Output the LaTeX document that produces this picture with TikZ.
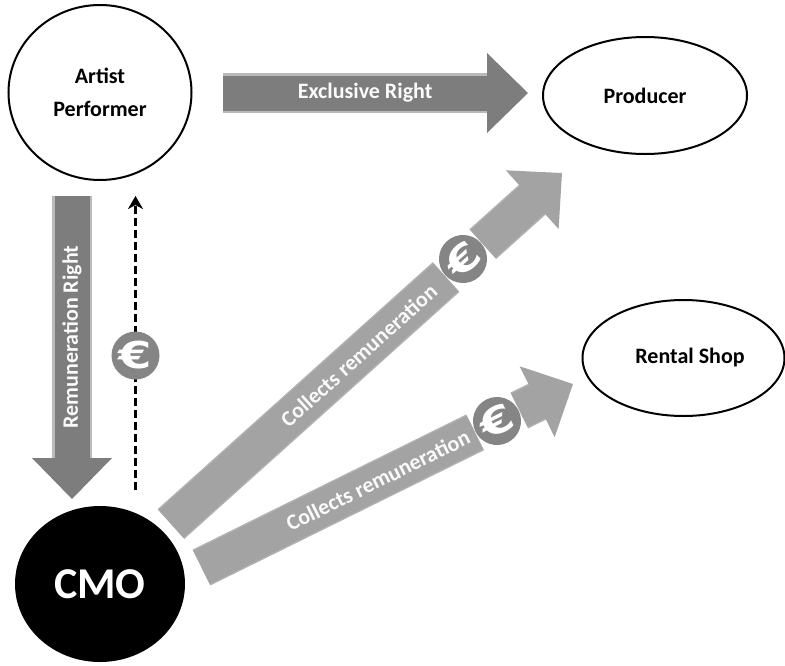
\documentclass[tikz,border=0pt]{standalone}
\usepackage{fontspec}
\setmainfont{Carlito}
\newfontfamily\coinfont{DejaVu Sans}
\colorlet{colorRight}{black!51}
\colorlet{colorRightRim}{black!27}
\colorlet{colorCollect}{black!36}
\colorlet{colorCollectRim}{black!30}
\colorlet{colorCoin}{black!48}
\usetikzlibrary{arrows.meta, shapes.geometric}
\tikzset{
  party/.style={ellipse, draw, line width=2pt, inner sep=0pt, font=\fontsize{22}{33}\selectfont\bfseries, align=center},
  rightArrow/.style={line width=40pt, draw=colorRightRim, -{Triangle[length=41pt, width=80pt, color=colorRight, fill=colorRight, line width=0pt]},
    postaction={draw=colorRight, line width=35pt, -, shorten >=37pt}},
  collectArrow/.style={line width=40pt, draw=colorCollectRim, -{Triangle[length=40pt, width=79pt, color=colorCollect, fill=colorCollect, line width=0pt]},
    postaction={draw=colorCollect, line width=37pt, -, shorten >=36pt}},
  arrowText/.style={text=black!2, font=\fontsize{22}{26}\selectfont\bfseries},
  coinGap/.style={rectangle, fill=white, minimum width=49pt, minimum height=49pt, inner sep=0pt},
  coin/.style={circle, fill=colorCoin, text=white, minimum size=48pt, inner sep=0pt, font=\fontsize{37}{37}\coinfont\bfseries}
}
\newcommand{\euroSign}{\scalebox{1.3}[1]{€}}
\begin{document}
\begin{tikzpicture}[x=1pt, y=-1pt]
\useasboundingbox (0,0) rectangle (785,665);
\node[party, minimum width=183pt, minimum height=175pt] (artist) at (100,92.5) {Artist\\Performer};
\node[party, minimum width=204pt, minimum height=117pt] (producer) at (645,95.5) {Producer};
\node[party, minimum width=202pt, minimum height=116pt] (rental) at (683.5,358) {\hspace{13pt}Rental Shop};
\node[ellipse, fill=black, text=white, minimum width=170pt, minimum height=156pt, inner sep=0pt, font=\fontsize{44}{44}\selectfont\bfseries] (cmo) at (100,584) {CMO};
\coordinate (exclusiveTail) at (223,93);
\coordinate (exclusiveTip) at (528,93);
\coordinate (remunerationTail) at (72,196);
\coordinate (remunerationTip) at (72,499);
\coordinate (paymentTail) at (135.5,490);
\coordinate (paymentTip) at (135.5,196);
\coordinate (producerTail) at (171,524);
\coordinate (producerTip) at (562,173);
\coordinate (rentalTail) at (201.5,567.5);
\coordinate (rentalTip) at (573,384);
\draw[rightArrow] (exclusiveTail) -- (exclusiveTip) node[arrowText, pos=.466] (exclusiveText) {Exclusive Right};
\draw[rightArrow] (remunerationTail) -- (remunerationTip) node[arrowText, pos=.465, rotate=90] (remunerationText) {Remuneration Right};
\draw[-{Stealth[length=13pt, width=15pt, inset=4pt]}, line width=2.6pt, dash pattern=on 8pt off 4pt] (paymentTail) -- (paymentTip);
\node[coin] (coinPayment) at (135.5,355.5) {\euroSign};
\draw[collectArrow] (producerTail) -- (producerTip) node[arrowText, pos=.48, sloped] (producerText) {Collects remuneration};
\node[coinGap, rotate=41.9] (gapProducer) at (463,259) {};
\node[coin, rotate=41.9] (coinProducer) at (463,259) {\euroSign};
\draw[collectArrow] (rentalTail) -- (rentalTip) node[arrowText, pos=.475, sloped] (rentalText) {Collects remuneration};
\node[coinGap, rotate=26.3] (gapRental) at (497,421) {};
\node[coin, rotate=26.3] (coinRental) at (497,421) {\euroSign};
\end{tikzpicture}
\end{document}
